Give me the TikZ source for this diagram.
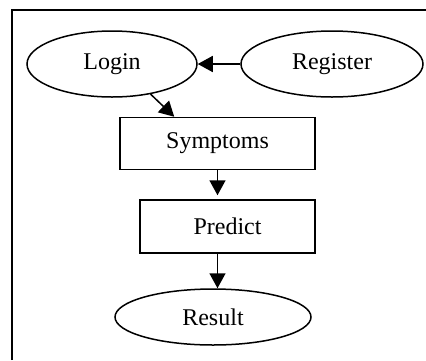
\documentclass[tikz,border=0pt]{standalone}
\usepackage{fontspec}
\setmainfont{Liberation Serif}
\usepackage{tikz}
\usetikzlibrary{arrows.meta,shapes.geometric}

\begin{document}
\begin{tikzpicture}[x=1pt,y=-1pt,line width=1.5pt,
  >={Triangle[width=16pt,length=15pt]},
  every node/.style={font=\fontsize{24}{27}\selectfont,inner sep=0pt},
  oval/.style={draw,ellipse,minimum height=66pt},
  box/.style={draw,rectangle,minimum height=52pt}]
\useasboundingbox (0,0) rectangle (426,360);
\draw (12,360) -- (12,10) -- (430,10);
\node[oval,minimum width=170pt] (login) at (112,64) {Login};
\node[oval,minimum width=182pt] (register) at (332,64) {Register};
\node[box,minimum width=195pt] (symptoms) at (217.5,143.5) {Symptoms};
\node[box,minimum width=175pt,minimum height=53pt] (predict) at (227.5,226.5) {Predict};
\node[oval,minimum width=196pt,minimum height=56pt] (result) at (213,317) {Result};
\draw[->] (register) -- (login);
\draw[->] (login.-38) -- ([xshift=55]symptoms.north west);
\draw[->,shorten >=4pt] (symptoms.south) -- (symptoms.south |- predict.north);
\draw[->] (symptoms.south |- predict.south) -- (symptoms.south |- result.north);
\end{tikzpicture}
\end{document}
